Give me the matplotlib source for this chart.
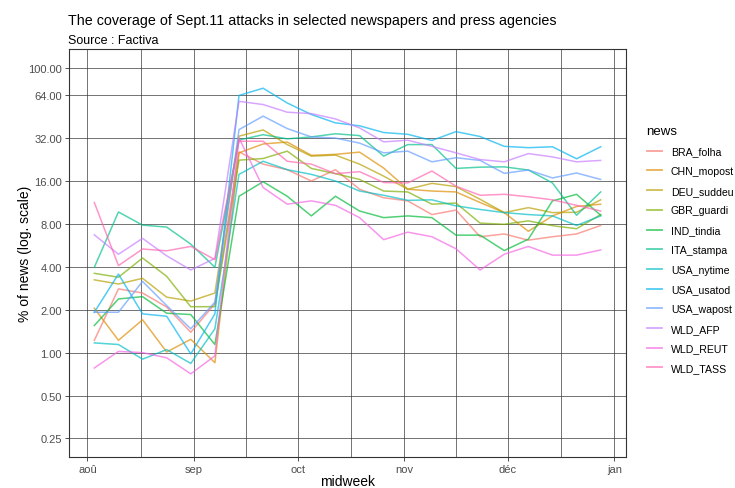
import numpy as np
import matplotlib
matplotlib.use("Agg")
import matplotlib.pyplot as plt
import matplotlib.dates as mdates

plt.rcParams['font.family'] = ['Liberation Sans', 'DejaVu Sans']

# weekly points (midweek), 3 Aug 2001 -> 28 Dec 2001
weeks = np.arange(np.datetime64('2001-08-03'), np.datetime64('2001-12-29'), np.timedelta64(7, 'D'))

news = ['BRA_folha', 'CHN_mopost', 'DEU_suddeu', 'GBR_guardi', 'IND_tindia', 'ITA_stampa',
        'USA_nytime', 'USA_usatod', 'USA_wapost', 'WLD_AFP', 'WLD_REUT', 'WLD_TASS']

BRA_folha = [1.22, 2.8, 2.62, 2.09, 1.39, 2.2, 25.6, 21, 19.2, 16, 19.2, 14, 12.2, 11.6, 9.3, 10,
             6.5, 6.8, 6.15, 6.5, 6.8, 7.8]
CHN_mopost = [2.05, 1.22, 1.7, 1.01, 1.24, 0.85, 25.2, 29.1, 30, 24.2, 24.6, 25.5, 19.7, 14, 13.6, 13.4,
              11.3, 9.6, 7.1, 9.1, 10.6, 11.0]
DEU_suddeu = [3.24, 3.03, 3.32, 2.45, 2.3, 2.62, 33, 36.5, 28.8, 23.9, 24.3, 21, 17.3, 14, 15.4, 14.6,
              11.9, 9.6, 10.4, 9.6, 9.65, 11.8]
GBR_guardi = [3.6, 3.38, 4.61, 3.43, 2.1, 2.1, 22.4, 23, 25.9, 19.6, 18, 16.4, 13.6, 13.4, 11, 11.2,
              8.1, 7.95, 8.4, 7.77, 7.4, 9.3]
IND_tindia = [1.55, 2.38, 2.47, 1.89, 1.85, 1.14, 12.5, 15.8, 12.5, 9.1, 12.5, 9.85, 8.85, 9.1, 8.85, 6.67,
              6.67, 5.2, 6.25, 11.6, 12.9, 9.2]
ITA_stampa = [3.97, 9.7, 7.84, 7.6, 5.77, 3.97, 31, 33.8, 31.6, 32.6, 34.3, 33.3, 23.9, 28.8, 28.8, 19.6,
              20, 20.1, 19.1, 15.5, 9.2, 13.4]
USA_nytime = [1.17, 1.14, 0.9, 1.05, 0.84, 1.47, 17.8, 22, 19.2, 17.8, 16, 13.6, 12.7, 11.7, 11.8, 10.7,
              10.1, 9.6, 9.3, 9.1, 7.8, 9.1]
USA_usatod = [1.92, 3.56, 1.87, 1.8, 0.98, 1.87, 63.7, 71.6, 56.4, 46.8, 40.9, 39, 35, 34, 30.8, 35.5,
              32.8, 28, 27.4, 27.8, 22.9, 27.8]
USA_wapost = [1.92, 1.92, 3.16, 2.14, 1.47, 2.26, 36.7, 45.6, 37.3, 32.6, 32, 29.5, 25.2, 25.9, 21.8, 23.3,
              22.3, 18.1, 19.1, 16.8, 18.2, 16.4]
WLD_AFP = [6.7, 4.9, 6.33, 4.78, 3.8, 4.58, 57.9, 55, 48.6, 47.5, 43.6, 37.7, 30.1, 30.9, 28, 25.2,
           22.6, 21.8, 24.9, 23.6, 21.8, 22.3]
WLD_REUT = [0.78, 1.02, 1.0, 0.92, 0.71, 0.95, 32, 14.4, 11, 11.6, 10.8, 8.85, 6.2, 7.0, 6.5, 5.35,
            3.8, 4.9, 5.56, 4.83, 4.83, 5.25]
WLD_TASS = [11.3, 4.08, 5.33, 5.18, 5.56, 4.49, 30.4, 30.4, 22, 21, 18, 18.6, 15.6, 15.5, 18.8, 14.7,
            12.7, 12.9, 12.4, 11.8, 10.8, 9.85]

series = [BRA_folha, CHN_mopost, DEU_suddeu, GBR_guardi, IND_tindia, ITA_stampa,
          USA_nytime, USA_usatod, USA_wapost, WLD_AFP, WLD_REUT, WLD_TASS]

# ggplot hue palette, 12 levels
colors = ['#F8766D', '#DE8C00', '#B79F00', '#7CAE00', '#00BA38', '#00C08B',
          '#00BFC4', '#00B4F0', '#619CFF', '#C77CFF', '#F564E3', '#FF64B0']

y_breaks = [0.25, 0.5, 1, 2, 4, 8, 16, 32, 64, 100]
month_ticks = np.array(['2001-08-01', '2001-09-01', '2001-10-01', '2001-11-01', '2001-12-01', '2002-01-01'],
                       dtype='datetime64[D]')
month_labels = ['aoû', 'sep', 'oct', 'nov', 'déc', 'jan']

fig = plt.figure(figsize=(7.35, 4.89), dpi=100)
ax = fig.add_axes([0.0939, 0.0634, 0.7578, 0.8344])

x = mdates.date2num(weeks.astype('datetime64[D]').astype(object))
for name, vals, c in zip(news, series, colors):
    ax.plot(x, vals, color=c, lw=1.1, alpha=0.68, label=name)

ax.set_yscale('log', base=2)
ax.set_ylim(2 ** -2.432, 2 ** 7.076)
span = x[-1] - x[0]
ax.set_xlim(x[0] - 0.05 * span, x[-1] + 0.05 * span)

mt = mdates.date2num(month_ticks.astype(object))
minor = (mt[:-1] + mt[1:]) / 2
ax.set_xticks(mt)
ax.set_xticklabels(month_labels)
ax.set_xticks(minor, minor=True)
ax.set_yticks(y_breaks)
ax.set_yticklabels(['%.2f' % v for v in y_breaks])
ax.yaxis.set_minor_locator(matplotlib.ticker.NullLocator())

ax.grid(True, which='major', color='#333333', lw=0.6, alpha=0.8)
ax.grid(True, which='minor', axis='x', color='#333333', lw=0.6, alpha=0.8)
ax.set_axisbelow(True)
for s in ax.spines.values():
    s.set_color('#333333')
    s.set_linewidth(0.8)
ax.tick_params(which='major', length=3, width=0.6, color='#333333', labelsize=8, labelcolor='#4D4D4D', pad=2)
ax.tick_params(which='minor', length=0)

ax.set_xlabel('midweek', fontsize=10, labelpad=0)
ax.set_ylabel('% of news (log. scale)', fontsize=10, labelpad=-3)

fig.text(0.0925, 0.948, 'The coverage of Sept.11 attacks in selected newspapers and press agencies', fontsize=10.3)
fig.text(0.0925, 0.91, 'Source : Factiva', fontsize=9)

leg = ax.legend(loc='center left', bbox_to_anchor=(1.02, 0.51), frameon=False, title='news',
                fontsize=7.6, title_fontsize=9.5, handlelength=1.5, handletextpad=0.8, labelspacing=0.92)
leg._legend_box.align = 'left'
for h in leg.get_lines():
    h.set_linewidth(1.3)

fig.savefig('out.png', dpi=100)
